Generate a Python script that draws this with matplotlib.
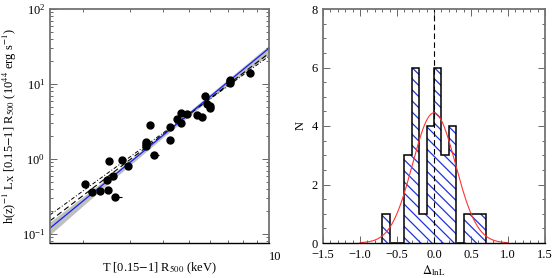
import numpy as np
import matplotlib
matplotlib.use("Agg")
from matplotlib import pyplot as plt
from matplotlib.ticker import FixedLocator, MultipleLocator, LogLocator, NullFormatter

# left panel: cluster temperatures (keV) and luminosities (1e44 erg/s)
temp = [2.03, 2.16, 2.31, 2.46, 2.47, 2.50, 2.60, 2.64, 2.81, 2.96, 3.44, 3.44, 3.44, 3.57, 3.70,
        4.23, 4.24, 4.51, 4.66, 4.67, 4.90, 5.34, 5.62, 5.74, 5.82, 5.99, 6.01, 7.11, 7.14, 7.14, 8.46]
lum = [0.46, 0.36, 0.37, 0.53, 0.39, 0.93, 0.59, 0.31, 0.96, 0.80, 1.69, 1.58, 1.49, 2.81, 1.13,
       1.79, 2.65, 3.44, 4.14, 3.05, 4.02, 3.83, 3.67, 6.92, 5.36, 5.09, 4.79, 11.3, 10.4, 10.9, 13.9]
terr_lo = [0, 0.08, 0, 0, 0.06, 0, 0, 0, 0, 0, 0, 0, 0, 0, 0.12,
           0, 0, 0, 0, 0, 0, 0, 0, 0, 0, 0, 0, 0, 0, 0, 0]
terr_hi = [0, 0, 0, 0, 0, 0, 0, 0.16, 0, 0, 0, 0, 0, 0, 0.15,
           0, 0, 0, 0, 0, 0, 0, 0, 0, 0, 0, 0, 0, 0, 0, 0]

# fitted relations (values at T = 1.5 and 10 keV)
fit_t = [1.5, 10.0]
fit_blue = [0.12, 30.0]
fit_dashed = [0.15, 25.7]
fit_dashdot = [0.18, 23.5]
band_t = [1.5, 2.5, 4.0, 6.0, 10.0]
band_lo = [0.098, 0.48, 1.95, 6.3, 25.0]
band_hi = [0.145, 0.58, 2.24, 7.35, 33.0]

# right panel: residual histogram
edges = [-0.7, -0.6, -0.5, -0.4, -0.3, -0.2, -0.1, 0.0, 0.1, 0.2, 0.3, 0.4, 0.5, 0.6, 0.7]
counts = [1, 0, 0, 3, 6, 1, 4, 6, 3, 4, 0, 1, 1, 1]
gauss_amp = 4.45
gauss_mu = 0.0
gauss_sigma = 0.29

plt.rcParams['font.family'] = ['Liberation Serif', 'DejaVu Serif']
plt.rcParams['font.size'] = 9
plt.rcParams['hatch.linewidth'] = 0.9
plt.rcParams['mathtext.fontset'] = 'stix'

fig = plt.figure(figsize=(5.56, 2.78), dpi=100)
ax1 = fig.add_axes([50/556, 35/278, 219/556, 234/278])
ax2 = fig.add_axes([323/556, 35/278, 222/556, 234/278])

for ax in (ax1, ax2):
    for s in ax.spines.values():
        s.set_color('0.45')
        s.set_linewidth(1.3)
    ax.spines['bottom'].set_color('k')
    ax.spines['bottom'].set_linewidth(1.0)
    ax.tick_params(which='both', direction='in', top=True, right=True, color='0.3', width=0.6)
    ax.tick_params(which='major', length=5)
    ax.tick_params(which='minor', length=2.5)

# ---- left panel
ax1.set_xscale('log')
ax1.set_yscale('log')
ax1.fill_between(band_t, band_lo, band_hi, color='0.75', lw=0)
ax1.plot(fit_t, fit_dashdot, color='k', lw=0.7, ls=(0, (4, 2, 1, 2)))
ax1.plot(fit_t, fit_dashed, color='k', lw=0.8, ls=(0, (5, 3)))
ax1.plot(fit_t, fit_blue, color='#1122ee', lw=0.9)
ax1.errorbar(temp, lum, xerr=[terr_lo, terr_hi], fmt='o', color='k', ms=5, elinewidth=0.8, capsize=0)
ax1.set_xlim(1.5, 10)
ax1.set_ylim(0.076, 100)
ax1.xaxis.set_major_locator(FixedLocator([10]))
ax1.xaxis.set_minor_locator(LogLocator(base=10, subs=np.arange(2, 10)))
ax1.xaxis.set_minor_formatter(NullFormatter())
ax1.set_xticklabels(['10'])
ax1.tick_params(axis='x', pad=6)
for t in ax1.get_xticklabels():
    t.set_horizontalalignment('left')
ax1.set_xlabel(r'T [0.15$-$1] R$_{500}$ (keV)')
ax1.xaxis.set_label_coords(0.5, -0.075)
ax1.set_ylabel(r'h(z)$^{-1}$ L$_\mathrm{X}$ [0.15$-$1] R$_{500}$ (10$^{44}$ erg s$^{-1}$)', labelpad=2)

# ---- right panel
ax2.bar(edges[:-1], counts, width=0.1, align='edge', fill=False, hatch='\\\\\\',
        edgecolor='#2233dd', linewidth=0)
ax2.stairs(counts, edges, color='k', lw=1.1)
gx = np.linspace(-1, 1, 200)
ax2.plot(gx, gauss_amp * np.exp(-0.5 * ((gx - gauss_mu) / gauss_sigma) ** 2), color='#ff3333', lw=0.8)
ax2.axvline(0, color='k', lw=0.8, ls=(0, (5, 3)))
ax2.set_xlim(-1.5, 1.5)
ax2.set_ylim(0, 8)
ax2.xaxis.set_major_locator(MultipleLocator(0.5))
ax2.xaxis.set_minor_locator(MultipleLocator(0.1))
ax2.yaxis.set_major_locator(MultipleLocator(2))
ax2.yaxis.set_minor_locator(MultipleLocator(0.5))
ax2.xaxis.set_major_formatter(plt.FuncFormatter(lambda v, p: ('%.1f' % v).replace('-', '\u2212')))
ax2.tick_params(axis='x', pad=4.5)
ax2.set_xlabel(r'$\Delta_{\rm lnL}$')
ax2.xaxis.set_label_coords(0.5, -0.087)
ax2.set_ylabel('N')

fig.savefig('out.png', dpi=100)
